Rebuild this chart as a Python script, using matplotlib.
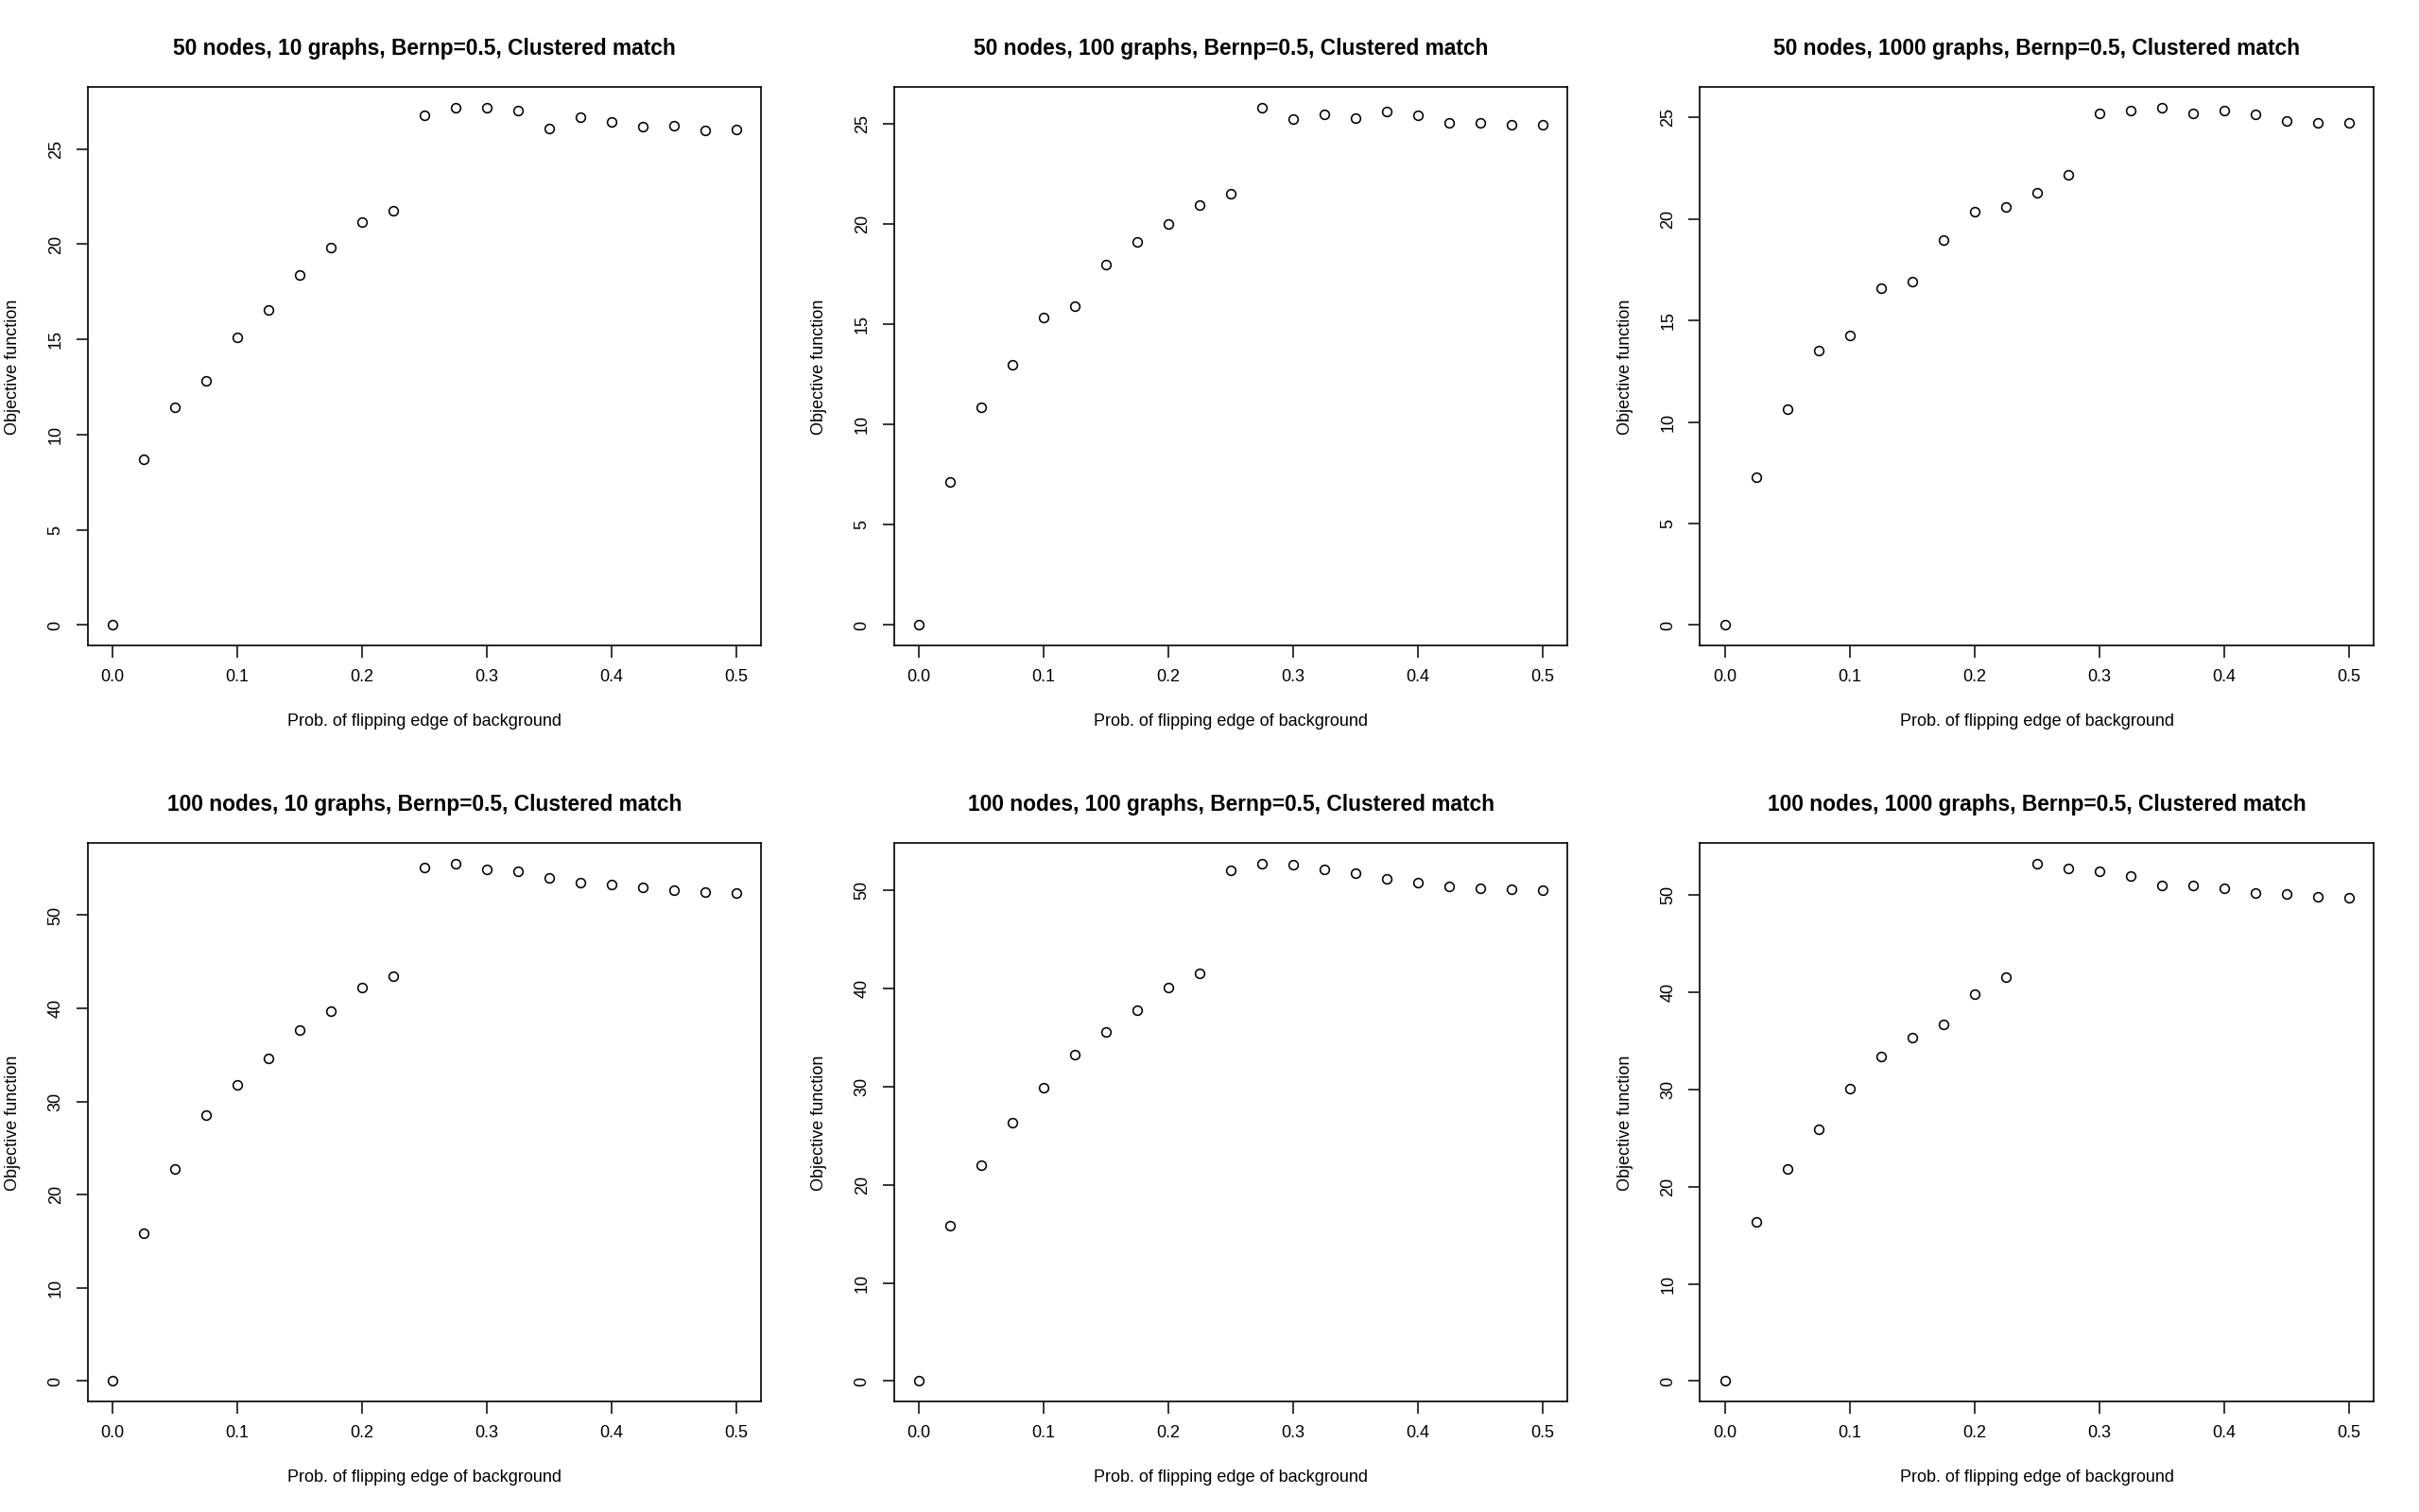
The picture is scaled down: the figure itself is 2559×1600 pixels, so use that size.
import matplotlib
matplotlib.use("Agg")
import matplotlib.pyplot as plt

plt.rcParams["font.family"] = ["Liberation Sans", "DejaVu Sans"]

# flip probabilities (x axis, shared by all panels)
flip_prob = [0.0, 0.025, 0.05, 0.075, 0.1, 0.125, 0.15, 0.175, 0.2, 0.225, 0.25,
             0.275, 0.3, 0.325, 0.35, 0.375, 0.4, 0.425, 0.45, 0.475, 0.5]

obj_50n_10g = [0.0, 8.71, 11.45, 12.82, 15.12, 16.54, 18.39, 19.81, 21.18, 21.76, 26.77,
               27.15, 27.15, 27.0, 26.06, 26.65, 26.44, 26.17, 26.22, 25.99, 26.04]
obj_50n_100g = [0.0, 7.12, 10.87, 12.98, 15.36, 15.89, 17.98, 19.13, 20.0, 20.94, 21.51,
                25.79, 25.22, 25.48, 25.31, 25.6, 25.41, 25.05, 25.05, 24.95, 24.95]
obj_50n_1000g = [0.0, 7.26, 10.64, 13.49, 14.24, 16.57, 16.93, 18.97, 20.37, 20.58, 21.30,
                 22.17, 25.19, 25.33, 25.45, 25.21, 25.31, 25.14, 24.81, 24.74, 24.74]
obj_100n_10g = [0.0, 15.84, 22.72, 28.52, 31.83, 34.63, 37.63, 39.70, 42.24, 43.43, 55.12,
                55.49, 54.92, 54.76, 53.98, 53.52, 53.31, 53.0, 52.64, 52.48, 52.43]
obj_100n_100g = [0.0, 15.83, 22.03, 26.35, 29.89, 33.28, 35.55, 37.81, 40.07, 41.59, 52.06,
                 52.70, 52.61, 52.11, 51.77, 51.18, 50.79, 50.39, 50.20, 50.10, 50.05]
obj_100n_1000g = [0.0, 16.37, 21.83, 25.89, 30.11, 33.38, 35.37, 36.66, 39.83, 41.52, 53.17,
                  52.73, 52.43, 51.98, 50.99, 50.99, 50.69, 50.15, 50.05, 49.85, 49.75]

titles = [
    "50 nodes, 10 graphs, Bernp=0.5, Clustered match",
    "50 nodes, 100 graphs, Bernp=0.5, Clustered match",
    "50 nodes, 1000 graphs, Bernp=0.5, Clustered match",
    "100 nodes, 10 graphs, Bernp=0.5, Clustered match",
    "100 nodes, 100 graphs, Bernp=0.5, Clustered match",
    "100 nodes, 1000 graphs, Bernp=0.5, Clustered match",
]
series = [obj_50n_10g, obj_50n_100g, obj_50n_1000g,
          obj_100n_10g, obj_100n_100g, obj_100n_1000g]
yticks = [[0, 5, 10, 15, 20, 25]] * 3 + [[0, 10, 20, 30, 40, 50]] * 3
xticks = [0.0, 0.1, 0.2, 0.3, 0.4, 0.5]

fig = plt.figure(figsize=(25.59, 16), dpi=100)

lefts = [0.03623, 0.36956, 0.70278]
width = 0.27847
bottoms = [0.5729, 0.0729]
height = 0.3693

for i, (ys, title, yt) in enumerate(zip(series, titles, yticks)):
    row, col = divmod(i, 3)
    ax = fig.add_axes([lefts[col], bottoms[row], width, height])
    ax.plot(flip_prob, ys, linestyle="none", marker="o", markersize=7,
            markerfacecolor="none", markeredgecolor="black", markeredgewidth=1.15)
    # R-style 4% padding on both axes
    xr = max(flip_prob) - min(flip_prob)
    ax.set_xlim(min(flip_prob) - 0.04 * xr, max(flip_prob) + 0.04 * xr)
    yr = max(ys) - min(ys)
    ax.set_ylim(min(ys) - 0.04 * yr, max(ys) + 0.04 * yr)
    ax.set_xticks(xticks)
    ax.set_xticklabels([f"{t:.1f}" for t in xticks])
    ax.set_yticks(yt)
    ax.set_yticklabels([str(t) for t in yt], rotation=90, va="center")
    ax.tick_params(direction="out", length=9, width=1.1, labelsize=13, pad=9)
    for sp in ax.spines.values():
        sp.set_linewidth(1.2)
    ax.set_title(title, fontsize=16.4, fontweight="bold", pad=25)
    ax.set_xlabel("Prob. of flipping edge of background", fontsize=13, va="center")
    ax.xaxis.set_label_coords(0.5, -0.1352)
    ax.set_ylabel("Objective function", fontsize=13, va="center", ha="center")
    ax.yaxis.set_label_coords(-0.1111, 0.5)

fig.savefig("out.png", dpi=100)
